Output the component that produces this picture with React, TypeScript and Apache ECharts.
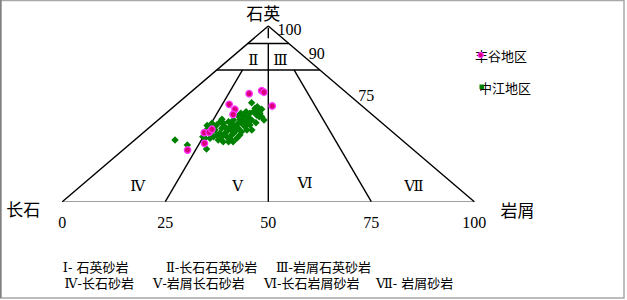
import React, { useEffect, useRef } from "react";
import * as echarts from "echarts";

// Ternary data: Q = 石英 %, L = 岩屑 % (F = 100 - Q - L)
const fengguQ = [61.5, 63.2, 62.3, 54.5, 55.4, 52.6, 49.7, 39.3, 39.5, 41.2, 33.2, 29.4];
const fengguL = [14.6, 16.8, 17.8, 23.7, 12.8, 15.6, 16.6, 14.8, 15.9, 15.7, 17.9, 15.7];

const zhongjiangQ = [
  35.1, 32.3, 30.0, 43.3, 37.0, 56.3, 54.1, 52.6, 50.3, 46.5, 49.3, 51.2, 50.3, 51.2, 48.0,
  48.8, 46.9, 44.6, 45.5, 46.5, 45.0, 43.7, 42.7, 44.6, 42.7, 44.6, 40.8, 39.8, 38.9, 40.8,
  44.6, 45.5, 43.7, 41.8, 38.9, 36.1, 34.1, 37.0, 38.9, 40.8, 41.8, 38.9, 37.0, 35.1, 34.1,
  36.1, 40.8, 38.0, 36.1, 46.9, 50.3, 53.2, 48.4, 40.8, 40.8, 34.1, 36.1, 48.8, 51.2, 42.7,
  42.7, 41.8, 46.5, 45.5, 46.5, 38.0, 37.0, 38.0, 44.6, 40.8, 48.4,
];
const zhongjiangL = [
  9.8, 14.2, 20.0, 13.5, 15.6, 17.8, 20.3, 22.1, 22.8, 25.7, 22.5, 20.8, 20.4, 19.0, 21.1,
  19.7, 19.7, 21.2, 21.9, 22.7, 24.5, 23.7, 23.0, 20.4, 20.6, 18.8, 21.9, 23.6, 22.1, 19.9,
  16.8, 15.6, 15.6, 17.8, 20.0, 22.6, 24.4, 21.4, 18.8, 16.7, 15.4, 16.2, 18.2, 20.3, 22.0,
  17.8, 25.6, 24.1, 24.3, 15.3, 18.2, 20.2, 23.6, 24.4, 20.7, 23.3, 16.6, 18.3, 22.0, 19.4,
  18.1, 21.8, 18.3, 17.6, 20.7, 18.5, 20.2, 22.1, 14.0, 14.6, 24.2,
];

const seriesNames = ["丰谷地区", "中江地区"];
const baseTicks = { min: 0, max: 100, interval: 25 };
const qTickLabels = ["100", "90", "75"];
const regionNames = ["Ⅱ", "Ⅲ", "Ⅳ", "Ⅴ", "Ⅵ", "Ⅶ"];
const legendLine1 = ["Ⅰ- 石英砂岩", "Ⅱ-长石石英砂岩", "Ⅲ-岩屑石英砂岩"];
const legendLine2 = ["Ⅳ-长石砂岩", "Ⅴ-岩屑长石砂岩", "Ⅵ-长石岩屑砂岩", "Ⅶ- 岩屑砂岩"];

// Classification boundaries in (Q, L) ternary coordinates
const boundaries: [number, number][][] = [
  [[0, 0], [100, 0], [0, 100]], // triangle sides F -> Q -> L
  [[90, 0], [90, 10]],
  [[75, 0], [75, 25]],
  [[0, 50], [90, 5]],
  [[93, 3.5], [99, 0.5]], // region Ⅰ mark
  [[0, 25], [75, 6.25]],
  [[0, 75], [75, 18.75]],
];

const toXY = (q: number, l: number): [number, number] => [l + q / 2, q];

const SERIF = "'Liberation Serif', 'DejaVu Serif', serif";
const ROMAN = "'DejaVu Serif', 'Liberation Serif', serif";
const CJK = "'Noto Sans CJK SC', sans-serif";
const MIXED = "'DejaVu Serif', 'Noto Sans CJK SC', sans-serif";

export default function App() {
  const ref = useRef<HTMLDivElement>(null);
  useEffect(() => {
    if (!ref.current) return;
    const chart = echarts.init(ref.current, null, { renderer: "svg" });

    const lineSeries = boundaries.map((seg) => ({
      type: "line",
      data: seg.map(([q, l]) => toXY(q, l)),
      symbol: "none",
      silent: true,
      lineStyle: { color: "#000", width: 1.4 },
      z: 2,
    }));

    const txt = (text: string, x: number, y: number, size: number, font: string, align = "center") => ({
      type: "text",
      x,
      y,
      style: { text, font: `${size}px ${font}`, fill: "#000", align, verticalAlign: "middle" },
    });

    const regionPos: [number, number][] = [
      [253.3, 59.5], [280.5, 59.5], [137.7, 185.5], [237.6, 186], [305, 182.8], [414, 186],
    ];
    const line1X = [62.8, 166, 276];
    const line2X = [64.5, 153, 264, 376];

    const graphics: any[] = [
      {
        type: "rect",
        shape: { x: 0.5, y: 0.5, width: 623.5, height: 297.5 },
        style: { fill: "none", stroke: "#a8a8a8", lineWidth: 1.5 },
      },
      { type: "line", shape: { x1: 0.8, y1: 0, x2: 0.8, y2: 298 }, style: { stroke: "#808080", lineWidth: 1.6 } },
      txt("石英", 263.3, 12.7, 17, CJK),
      txt("长石", 23.3, 208, 17, CJK),
      txt("岩屑", 517.5, 209, 17, CJK),
      txt(qTickLabels[0], 289.5, 29.5, 16, SERIF),
      txt(qTickLabels[1], 316.8, 53.8, 16, SERIF),
      txt(qTickLabels[2], 366.2, 95.5, 16, SERIF),
      ...regionNames.map((r, i) => txt(r, regionPos[i][0], regionPos[i][1], 15, ROMAN)),
      ...legendLine1.map((t, i) => txt(t, line1X[i], 267.5, 13, MIXED, "left")),
      ...legendLine2.map((t, i) => txt(t, line2X[i], 283.5, 13, MIXED, "left")),
      txt(seriesNames[0], 475, 55, 13, CJK, "left"),
      txt(seriesNames[1], 479, 87.7, 13, CJK, "left"),
      { type: "circle", shape: { cx: 480.7, cy: 55, r: 2.6 }, style: { fill: "#d9007a", stroke: "#ff33ff", lineWidth: 1.2 }, z: 10 },
      { type: "rect", shape: { x: 479.5, y: 84.5, width: 4.5, height: 4.5 }, style: { fill: "#008000" }, z: 10 },
    ];

    chart.setOption({
      animation: false,
      backgroundColor: "#fff",
      grid: { left: 62.3, right: 152.7, top: 26, bottom: 98.3, containLabel: false },
      xAxis: {
        type: "value",
        min: baseTicks.min,
        max: baseTicks.max,
        interval: baseTicks.interval,
        axisLine: { show: true, lineStyle: { color: "#a0a0a0", width: 1.2 } },
        axisTick: { show: false },
        splitLine: { show: false },
        axisLabel: { fontSize: 16, fontFamily: SERIF, color: "#000", margin: 13, showMaxLabel: true, showMinLabel: true },
      },
      yAxis: { type: "value", min: 0, max: 100, show: false, splitLine: { show: false } },
      series: [
        ...lineSeries,
        {
          name: seriesNames[1],
          type: "scatter",
          data: zhongjiangQ.map((q, i) => toXY(q, zhongjiangL[i])),
          symbol: "diamond",
          symbolSize: 7.5,
          itemStyle: { color: "#008000", opacity: 1 },
          z: 3,
        },
        {
          name: seriesNames[0],
          type: "scatter",
          data: fengguQ.map((q, i) => toXY(q, fengguL[i])),
          symbol: "circle",
          symbolSize: 6.5,
          itemStyle: { color: "#d9007a", borderColor: "#ff33ff", borderWidth: 1.3, opacity: 1 },
          z: 4,
        },
      ],
      graphic: graphics,
    });
    return () => chart.dispose();
  }, []);
  return <div ref={ref} style={{ position: "fixed", left: 0, top: 0, width: 627, height: 300 }} />;
}
